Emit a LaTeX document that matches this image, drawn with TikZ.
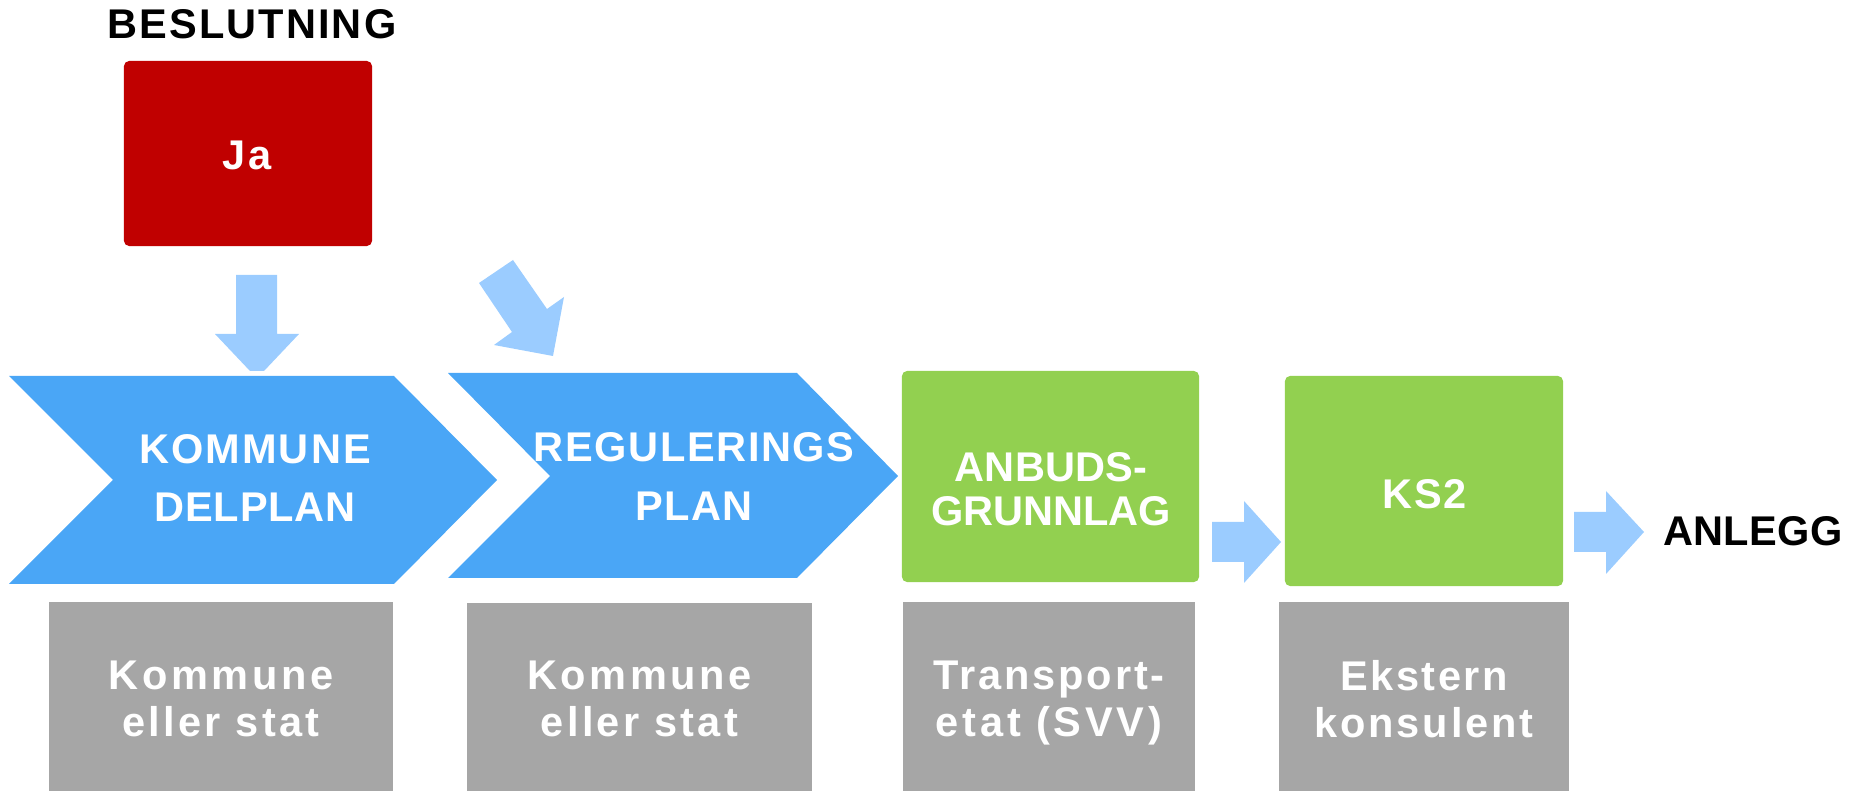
\documentclass[tikz,border=0pt]{standalone}
\usepackage{fontspec}
\setmainfont{Liberation Sans}
\newcommand{\trk}[1]{\addfontfeature{LetterSpace=#1}}
\definecolor{redbox}{RGB}{192,0,0}
\definecolor{chevblue}{RGB}{74,166,246}
\definecolor{lightblue}{RGB}{155,204,255}
\definecolor{greenbox}{RGB}{146,208,80}
\definecolor{graybox}{RGB}{166,166,166}
\begin{document}
\begin{tikzpicture}[x=0.01cm,y=-0.01cm,
  every node/.style={inner sep=0pt, outer sep=0pt},
  redstyle/.style={fill=redbox, rounded corners=1.5pt, minimum width=2.48cm, minimum height=1.85cm},
  greenstyle/.style={fill=greenbox, rounded corners=1.5pt},
  graystyle/.style={fill=graybox, text=white, align=center,
    font=\bfseries\fontsize{11.81}{13.23}\selectfont},
  chevtext/.style={text=white, align=center, font=\bfseries\fontsize{11.81}{16.64}\selectfont},
  greentext/.style={text=white, align=center, font=\bfseries\fontsize{11.81}{12.52}\selectfont},
  whitetext/.style={text=white, font=\bfseries\fontsize{11.81}{13}\selectfont},
  blacktext/.style={text=black, font=\bfseries\fontsize{11.81}{13}\selectfont},
  chevron/.style={fill=chevblue},
  blockarrow/.style={fill=lightblue}
]
\path[use as bounding box, clip] (0,0) rectangle (1856,791);

% top label and decision box
\node[blacktext, anchor=base] (beslutning) at (252,39) {\trk{5}BESLUTNING};
\node[redstyle] (ja) at (248,153.5) {};
\node[whitetext, anchor=base] (jatext) at (247,170) {\trk{6}Ja};

% block arrows into the chevrons
\fill[blockarrow] (236,275) -- (277,275) -- (277,334) -- (299,334) -- (264,371)
  -- (250,371) -- (215,334) -- (236,334) -- cycle;
\fill[blockarrow] (479,283) -- (513,260) -- (547,309) -- (564,297) -- (553,356)
  -- (494,345) -- (512,332) -- cycle;

% chevrons
\fill[chevron] (9,376) -- (394,376) -- (497,480) -- (394,584) -- (9,584) -- (113,480) -- cycle;
\node[chevtext] (kommunedelplan) at (255,477.9) {\trk{5}KOMMUNE\\\trk{2}DELPLAN};
\fill[chevron] (448,373) -- (797,373) -- (898,476) -- (797,578) -- (448,578) -- (550,476) -- cycle;
\node[chevtext] (reguleringsplan) at (694,476.7) {\trk{4}REGULERINGS\\\trk{3}PLAN};

% green boxes
\node[greenstyle, minimum width=2.97cm, minimum height=2.11cm] (anbud) at (1050.5,476.5) {};
\node[greentext] (anbudtext) at (1051,489.2) {\trk{0.5}ANBUDS-\\GRUNNLAG};
\node[greenstyle, minimum width=2.78cm, minimum height=2.10cm] (ks) at (1424,481) {};
\node[whitetext, anchor=base] (kstext) at (1425,509) {\trk{4}KS2};

% block arrows between green boxes and to ANLEGG
\fill[blockarrow] (1212,522) -- (1244,522) -- (1244,501) -- (1281,542) -- (1244,583)
  -- (1244,562) -- (1212,562) -- cycle;
\fill[blockarrow] (1574,512) -- (1606,512) -- (1606,491) -- (1644,532) -- (1606,574)
  -- (1606,552) -- (1574,552) -- cycle;
\node[blacktext, anchor=base] (anlegg) at (1753,546) {\trk{1}ANLEGG};

% gray boxes
\node[graystyle, minimum width=3.44cm, minimum height=1.94cm] (g1) at (221,698.9)
  {\trk{8.5}Kommune\\\trk{8}eller stat};
\node[graystyle, minimum width=3.45cm, minimum height=1.92cm] (g2) at (639.5,698.9)
  {\trk{8.5}Kommune\\\trk{8}eller stat};
\node[graystyle, minimum width=2.92cm, minimum height=2.02cm] (g3) at (1049,703.2)
  {\trk{7}Transport-\\\trk{9}etat (SVV)};
\node[graystyle, minimum width=2.90cm, minimum height=1.94cm] (g4) at (1424,698.9)
  {\trk{6}Ekstern\\\trk{7}konsulent};
\end{tikzpicture}
\end{document}
